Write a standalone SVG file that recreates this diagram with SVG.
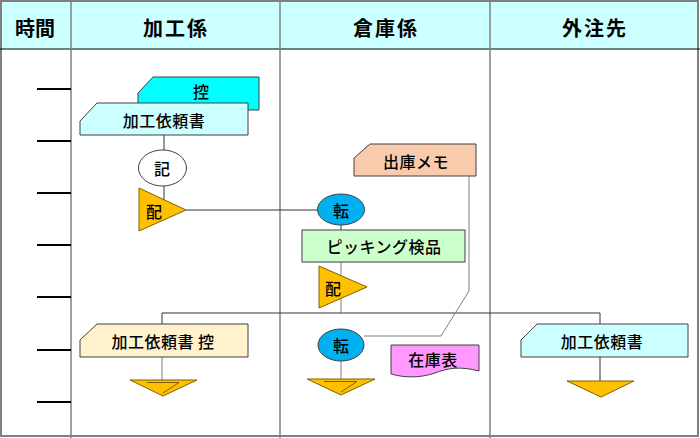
<svg xmlns="http://www.w3.org/2000/svg" width="700" height="438" viewBox="0 0 700 438">
<style>
text{font-family:"Noto Sans CJK JP","Liberation Sans",sans-serif;fill:#000;text-anchor:middle;dominant-baseline:central}
.h{font-size:20px;font-weight:bold}
.t{font-size:16px;font-weight:500}
.sh{stroke:#404040;stroke-width:1}
.ln{stroke:#333;stroke-width:1;fill:none}
.lg{stroke:#808080;stroke-width:1;fill:none}
.tri{fill:#FFC000;stroke:#7F6000;stroke-width:1}
.tick{stroke:#000;stroke-width:2}
</style>
<rect x="0" y="0" width="700" height="438" fill="#fff"/>
<rect x="1" y="1" width="697" height="48" fill="#CCFFFF"/>
<g id="frame">
<rect x="1" y="1" width="697" height="435" fill="none" stroke="#808080" stroke-width="2"/>
<line x1="0" y1="49" x2="700" y2="49" stroke="#000" stroke-width="1"/>
<line x1="71" y1="0" x2="71" y2="438" stroke="#808080" stroke-width="1.5"/>
<line x1="280" y1="0" x2="280" y2="438" stroke="#808080" stroke-width="1.5"/>
<line x1="490" y1="0" x2="490" y2="438" stroke="#808080" stroke-width="1.5"/>
<text class="h" x="35" y="27">時間</text>
<text class="h" x="176" y="27" letter-spacing="2">加工係</text>
<text class="h" x="386" y="27" letter-spacing="2">倉庫係</text>
<text class="h" x="595" y="27" letter-spacing="2">外注先</text>
</g>
<g id="ticks">
<line class="tick" x1="37" y1="89" x2="71" y2="89"/>
<line class="tick" x1="37" y1="141" x2="71" y2="141"/>
<line class="tick" x1="37" y1="193" x2="71" y2="193"/>
<line class="tick" x1="37" y1="245" x2="71" y2="245"/>
<line class="tick" x1="37" y1="297" x2="71" y2="297"/>
<line class="tick" x1="37" y1="350" x2="71" y2="350"/>
<line class="tick" x1="37" y1="402" x2="71" y2="402"/>
</g>
<g id="connectors">
<line class="ln" x1="164" y1="135" x2="164" y2="150"/>
<line class="ln" x1="164" y1="186" x2="164" y2="205"/>
<line class="ln" x1="186" y1="210" x2="318" y2="210"/>
<line class="ln" x1="341" y1="225" x2="341" y2="230"/>
<line class="lg" x1="341" y1="262" x2="341" y2="313"/>
<polyline class="ln" points="162,324 162,313 600,313 600,324"/>
<line class="lg" x1="162" y1="357" x2="162" y2="380"/>
<polyline class="lg" points="364,336 441,336 469,291 469,176"/>
<line class="lg" x1="341" y1="361" x2="341" y2="379"/>
<line class="ln" x1="600" y1="357" x2="600" y2="381"/>
</g>
<g id="hikae">
<path d="M138,93 L153,77 L259,77 L259,110 L138,110 Z" fill="#00FFFF" class="sh"/>
<text class="t" x="201" y="91">控</text>
</g>
<g id="irai1">
<path d="M80,121 L97,103 L248,103 L248,135 L80,135 Z" fill="#CCFFFF" class="sh"/>
<text class="t" x="164" y="120" letter-spacing="0.5">加工依頼書</text>
</g>
<g id="ki">
<ellipse cx="162.5" cy="168" rx="24" ry="18" fill="#fff" class="sh"/>
<text class="t" x="162" y="168">記</text>
</g>
<g id="hai1">
<path d="M139,188 L186,210 L139,231 Z" class="tri"/>
<text class="t" x="154" y="211">配</text>
</g>
<g id="ten1">
<ellipse cx="341" cy="209.5" rx="23.5" ry="15.5" fill="#00B0F0" class="sh"/>
<text class="t" x="341" y="210">転</text>
</g>
<g id="shukko">
<path d="M354,158 L370,144 L476,144 L476,176 L354,176 Z" fill="#F8CBAD" class="sh"/>
<text class="t" x="416" y="161" letter-spacing="0.5">出庫メモ</text>
</g>
<g id="picking">
<rect x="302" y="230" width="163" height="32" fill="#CCFFCC" class="sh"/>
<text class="t" x="384" y="246" letter-spacing="0.5">ピッキング検品</text>
</g>
<g id="hai2">
<path d="M319,266 L367,287 L319,308 Z" class="tri"/>
<text class="t" x="333" y="288">配</text>
</g>
<g id="irai-hikae">
<path d="M80,340 L97,324 L248,324 L248,357 L80,357 Z" fill="#FFF2CC" class="sh"/>
<text class="t" x="163" y="341" letter-spacing="0.5">加工依頼書 控</text>
</g>
<g id="store1">
<path d="M130,380 L197,380 L163,396 Z" class="tri"/>
<path d="M147,382.5 L179,382.5 L163,393" fill="none" stroke="#7F6000" stroke-width="1"/>
</g>
<g id="ten2">
<ellipse cx="341" cy="345" rx="23" ry="16" fill="#00B0F0" class="sh"/>
<text class="t" x="341" y="345">転</text>
</g>
<g id="zaiko">
<path d="M391,345 H479 V371 C460,366 448,368 435,373 C420,378 405,378 391,374 Z" fill="#FF99FF" class="sh"/>
<text class="t" x="433" y="359" letter-spacing="0.5">在庫表</text>
</g>
<g id="store2">
<path d="M307,379 L375,379 L341,395 Z" class="tri"/>
<path d="M324,381.5 L357,381.5 L341,392" fill="none" stroke="#7F6000" stroke-width="1"/>
</g>
<g id="irai2">
<path d="M521,340 L537,324 L688,324 L688,357 L521,357 Z" fill="#CCFFFF" class="sh"/>
<text class="t" x="602" y="341" letter-spacing="0.5">加工依頼書</text>
</g>
<g id="store3">
<path d="M567,381 L634,381 L601,397 Z" class="tri"/>
</g>
</svg>
